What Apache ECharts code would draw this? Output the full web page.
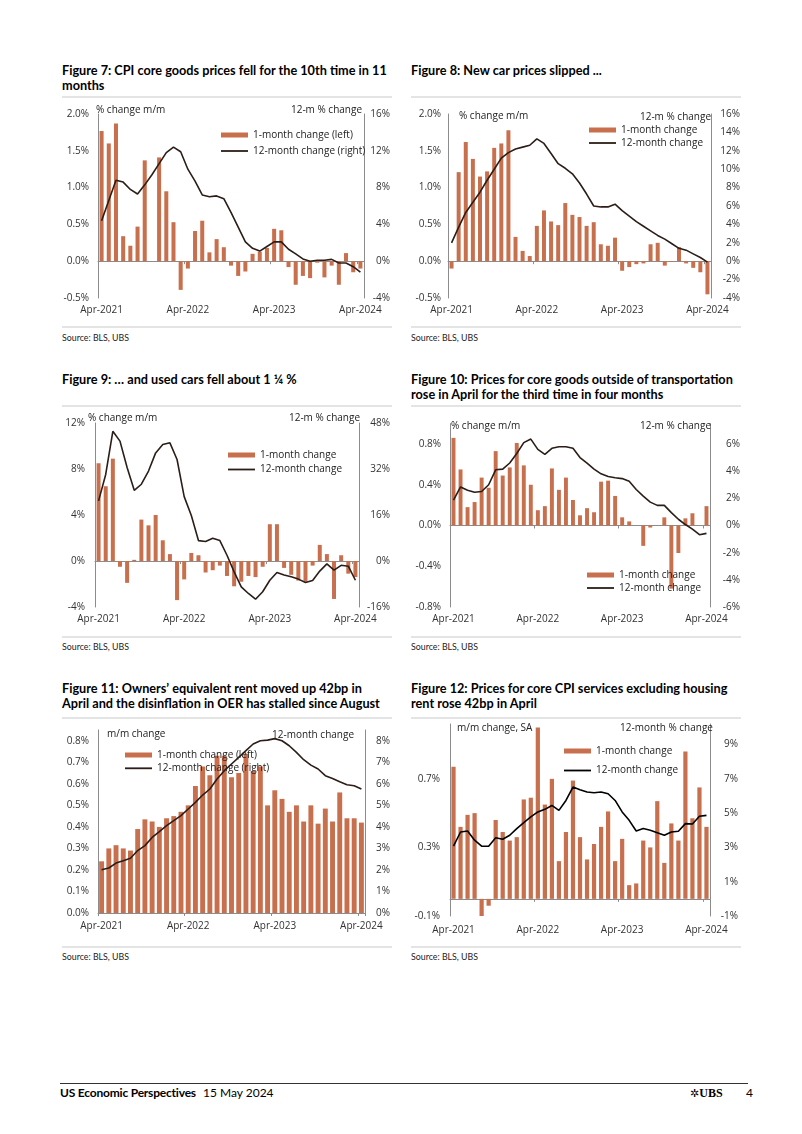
<!DOCTYPE html>
<html><head><meta charset="utf-8">
<script src="https://cdn.jsdelivr.net/npm/echarts@6/dist/echarts.min.js"></script>
<style>
body{margin:0;background:#fff;}
#page{position:relative;width:802px;height:1134px;overflow:hidden;font-family:Lato,'Open Sans',sans-serif;color:#000;background:#fff;}
.title{position:absolute;font-weight:700;font-size:12.7px;line-height:15px;white-space:nowrap;z-index:2;}
.sep{position:absolute;height:2px;background:#e4e4e4;}
.src{position:absolute;font-size:8.8px;color:#222;line-height:10px;white-space:nowrap;}
.chart{position:absolute;}
.an{position:absolute;font-size:10px;color:#222;white-space:nowrap;line-height:12px;z-index:2;font-family:'Open Sans',sans-serif;}
.foot{position:absolute;font-size:12px;line-height:14px;white-space:nowrap;}
</style></head>
<body><div id="page">
<div class="title" style="left:62px;top:63px;">Figure 7: CPI core goods prices fell for the 10th time in 11<br>months</div>
<div class="title" style="left:411px;top:63px;">Figure 8: New car prices slipped ...</div>
<div class="sep" style="left:62px;top:96px;width:330px;"></div>
<div class="sep" style="left:411px;top:96px;width:330px;"></div>
<div class="sep" style="left:62px;top:326px;width:330px;"></div>
<div class="sep" style="left:411px;top:326px;width:330px;"></div>
<div class="src" style="left:62px;top:333px;">Source: BLS, UBS</div>
<div class="src" style="left:411px;top:333px;">Source: BLS, UBS</div>

<div class="title" style="left:62px;top:372px;">Figure 9: … and used cars fell about 1 ¼ %</div>
<div class="title" style="left:411px;top:372px;">Figure 10: Prices for core goods outside of transportation<br>rose in April for the third time in four months</div>
<div class="sep" style="left:62px;top:405px;width:330px;"></div>
<div class="sep" style="left:411px;top:405px;width:330px;"></div>
<div class="sep" style="left:62px;top:636px;width:330px;"></div>
<div class="sep" style="left:411px;top:636px;width:330px;"></div>
<div class="src" style="left:62px;top:642px;">Source: BLS, UBS</div>
<div class="src" style="left:411px;top:642px;">Source: BLS, UBS</div>

<div class="title" style="left:62px;top:681px;">Figure 11: Owners’ equivalent rent moved up 42bp in<br>April and the disinflation in OER has stalled since August</div>
<div class="title" style="left:411px;top:681px;">Figure 12: Prices for core CPI services excluding housing<br>rent rose 42bp in April</div>
<div class="sep" style="left:62px;top:717px;width:330px;"></div>
<div class="sep" style="left:411px;top:717px;width:330px;"></div>
<div class="sep" style="left:62px;top:946px;width:330px;"></div>
<div class="sep" style="left:411px;top:946px;width:330px;"></div>
<div class="src" style="left:62px;top:952px;">Source: BLS, UBS</div>
<div class="src" style="left:411px;top:952px;">Source: BLS, UBS</div>

<div class="chart" id="c7" style="left:55px;top:100px;width:345px;height:225px;"></div>
<div class="chart" id="c8" style="left:405px;top:100px;width:345px;height:225px;"></div>
<div class="chart" id="c9" style="left:55px;top:410px;width:345px;height:225px;"></div>
<div class="chart" id="c10" style="left:405px;top:410px;width:345px;height:225px;"></div>
<div class="chart" id="c11" style="left:55px;top:720px;width:345px;height:225px;"></div>
<div class="chart" id="c12" style="left:405px;top:720px;width:345px;height:225px;"></div>

<div class="an" style="left:96px;top:103px;">% change m/m</div>
<div class="an" style="right:440px;top:103px;">12-m % change</div>
<div class="an" style="left:459px;top:109px;">% change m/m</div>
<div class="an" style="right:91px;top:110px;">12-m % change</div>
<div class="an" style="left:88px;top:411px;">% change m/m</div>
<div class="an" style="right:442px;top:411px;">12-m % change</div>
<div class="an" style="left:451px;top:419px;">% change m/m</div>
<div class="an" style="right:91px;top:419px;">12-m % change</div>
<div class="an" style="left:107px;top:727px;">m/m change</div>
<div class="an" style="right:448px;top:728px;">12-month change</div>
<div class="an" style="left:457px;top:721px;">m/m change, SA</div>
<div class="an" style="right:89px;top:721px;">12-month % change</div>

<div style="position:absolute;left:60px;top:1083px;width:688px;height:1px;background:#333;"></div>
<div class="foot" style="left:60px;top:1086px;font-weight:700;letter-spacing:-0.2px;">US Economic Perspectives</div>
<div class="foot" style="left:203px;top:1086px;">15 May 2024</div>
<div class="foot" style="left:690px;top:1086px;font-family:'Liberation Serif',serif;font-weight:700;"><span style="font-family:'DejaVu Sans';font-size:11px;">✲</span>UBS</div>
<div class="foot" style="left:746px;top:1086px;">4</div>
</div>
<script>
const months = ['Apr-2021','May-2021','Jun-2021','Jul-2021','Aug-2021','Sep-2021','Oct-2021','Nov-2021','Dec-2021','Jan-2022','Feb-2022','Mar-2022',
 'Apr-2022','May-2022','Jun-2022','Jul-2022','Aug-2022','Sep-2022','Oct-2022','Nov-2022','Dec-2022','Jan-2023','Feb-2023','Mar-2023',
 'Apr-2023','May-2023','Jun-2023','Jul-2023','Aug-2023','Sep-2023','Oct-2023','Nov-2023','Dec-2023','Jan-2024','Feb-2024','Mar-2024','Apr-2024'];

const fig7Bars = [1.77,1.60,1.87,0.34,0.21,0.47,1.37,0.00,1.41,0.95,0.53,-0.39,-0.10,0.41,0.55,0.12,0.30,0.19,-0.06,-0.20,-0.14,0.10,0.13,0.18,0.44,0.42,-0.08,-0.32,-0.20,-0.23,-0.02,-0.22,-0.06,-0.32,0.11,-0.15,-0.10];
const fig7Line = [4.4,6.6,8.8,8.6,7.8,7.3,8.3,9.4,10.6,11.8,12.4,11.9,10.0,8.7,7.2,7.0,7.1,6.8,5.3,3.7,2.1,1.4,1.1,1.6,2.1,2.1,1.3,0.8,0.25,0.0,0.1,0.1,0.2,-0.2,-0.2,-0.6,-1.2];
const fig7LeftTicks = [-0.5,0,0.5,1,1.5,2];
const fig7RightTicks = [-4,0,4,8,12,16];

const fig8Bars = [-0.10,1.21,1.62,1.39,1.15,1.22,1.54,1.60,1.78,0.33,0.14,0.07,0.48,0.69,0.54,0.49,0.79,0.63,0.60,0.48,0.53,0.23,0.21,0.32,-0.13,-0.08,-0.04,-0.03,0.23,0.25,-0.06,-0.01,0.19,-0.03,-0.09,-0.15,-0.45];
const fig8Line = [2.0,3.7,5.3,6.4,7.5,8.8,10.0,11.2,11.8,12.2,12.4,12.6,13.3,12.8,11.7,10.6,10.1,9.5,8.5,7.3,6.0,5.9,5.9,6.2,5.5,4.9,4.3,3.8,3.3,2.8,2.4,1.9,1.4,1.2,0.8,0.4,-0.1];
const fig8LeftTicks = [-0.5,0,0.5,1,1.5,2];
const fig8RightTicks = [-4,-2,0,2,4,6,8,10,12,14,16];

const fig9Bars = [8.5,6.5,8.9,-0.5,-1.9,0.1,3.6,3.1,4.0,1.8,0.6,-3.4,-1.6,0.7,0.5,-1.0,-0.8,-0.4,-1.3,-2.2,-1.8,-1.3,-1.4,-0.5,3.2,3.2,-0.6,-1.2,-1.7,-1.8,-0.4,1.4,0.6,-3.3,0.5,-1.1,-1.4];
const fig9Line = [20.9,30.1,45.1,41.7,32.5,24.6,26.7,31.3,37.6,40.5,41.1,35.3,22.4,15.8,7.1,6.8,7.9,7.1,2.0,-3.8,-9.0,-11.3,-13.3,-10.7,-6.7,-4.0,-4.9,-5.5,-6.3,-7.5,-6.8,-3.5,-1.0,-3.2,-1.5,-1.8,-6.7];
const fig9LeftTicks = [-4,0,4,8,12];
const fig9RightTicks = [-16,0,16,32,48];

const fig10Bars = [0.86,0.55,0.18,0.23,0.47,0.37,0.73,0.49,0.57,0.81,0.59,0.40,0.15,0.19,0.56,0.35,0.47,0.25,0.10,0.17,0.13,0.43,0.44,0.29,0.08,0.04,0.00,-0.20,-0.02,0.00,0.08,-0.62,-0.27,0.07,0.12,0.00,0.19];
const fig10Line = [1.87,2.84,2.6,2.45,2.5,3.0,4.1,4.15,4.6,5.3,6.1,6.36,5.6,5.24,5.68,5.8,5.8,5.68,5.0,4.59,4.15,3.8,3.6,3.52,3.45,3.25,2.65,2.16,1.72,1.48,1.48,0.95,0.46,0.07,-0.27,-0.68,-0.58];
const fig10LeftTicks = [-0.8,-0.4,0,0.4,0.8];
const fig10RightTicks = [-6,-4,-2,0,2,4,6];

const fig11Bars = [0.24,0.30,0.315,0.30,0.29,0.39,0.435,0.425,0.40,0.44,0.45,0.47,0.50,0.59,0.68,0.64,0.73,0.73,0.63,0.65,0.74,0.66,0.68,0.50,0.57,0.53,0.47,0.50,0.425,0.50,0.415,0.485,0.425,0.56,0.44,0.44,0.42];
const fig11Line = [2.01,2.09,2.32,2.43,2.54,2.9,3.13,3.51,3.78,4.06,4.29,4.52,4.83,5.14,5.48,5.76,6.22,6.61,6.92,7.23,7.54,7.85,8.0,8.03,8.1,8.0,7.77,7.46,7.12,6.87,6.69,6.38,6.25,6.1,5.96,5.91,5.76];
const fig11LeftTicks = [0,0.1,0.2,0.3,0.4,0.5,0.6,0.7,0.8];
const fig11RightTicks = [0,1,2,3,4,5,6,7,8];

const fig12Bars = [0.77,0.42,0.49,0.50,-0.10,-0.04,0.46,0.39,0.34,0.36,0.58,0.59,1.00,0.55,0.70,0.22,0.39,0.69,0.36,0.23,0.32,0.42,0.51,0.22,0.35,0.08,0.09,0.34,0.30,0.57,0.21,0.44,0.34,0.86,0.47,0.65,0.42];
const fig12Line = [3.07,3.9,3.96,3.42,3.07,3.07,3.57,3.48,3.71,4.1,4.45,4.78,5.07,5.22,5.45,5.16,5.74,6.52,6.37,6.23,6.19,6.23,6.13,5.74,5.07,4.58,3.96,4.1,4.0,3.86,3.71,3.9,3.94,4.39,4.37,4.82,4.87];
const fig12LeftTicks = [-0.1,0.3,0.7];
const fig12RightTicks = [-1,1,3,5,7,9];

const BAR_COLOR = '#C86F4D';
const AXIS_COLOR = '#8c8c8c';
const FONT = "'Open Sans', sans-serif";
const LINE_ICON = 'path://M0 0 H60 V4 H0 Z';

function fmt(ticks, dec) {
  return function (v) {
    for (const t of ticks) { if (Math.abs(v - t) < 1e-6) return t.toFixed(dec) + '%'; }
    return '';
  };
}

function makeChart(id, c) {
  const chart = echarts.init(document.getElementById(id), null, {renderer: 'canvas'});
  const yBase = {
    type: 'value', splitLine: {show: false}, axisTick: {show: false},
    axisLine: {show: true, onZero: false, lineStyle: {color: AXIS_COLOR, width: 1}}
  };
  chart.setOption({
    animation: false,
    grid: {left: c.grid[0], top: c.grid[1], width: c.grid[2], height: c.grid[3], containLabel: false},
    legend: {
      orient: 'vertical', left: c.leg[0], top: c.leg[1], itemGap: c.leg[2], padding: 0,
      itemWidth: 27, itemHeight: 5, selectedMode: false,
      textStyle: {fontSize: 10, color: '#222', fontFamily: FONT, lineHeight: 12},
      data: [{name: c.barName, icon: 'rect'}, {name: c.lineName, icon: LINE_ICON, itemStyle: {color: c.lineColor}}]
    },
    xAxis: [
      {type: 'category', data: months, position: 'bottom',
       axisLine: {show: false, onZero: false}, axisTick: {show: false},
       axisLabel: {interval: function (i) { return i % 12 === 0; }, margin: c.xMargin, color: '#333', fontSize: 10, fontFamily: FONT}},
      {type: 'category', data: months, position: 'bottom',
       axisLine: {show: true, onZero: true, lineStyle: {color: AXIS_COLOR, width: 1}},
       axisTick: {show: true, interval: function (i) { return i % 12 === 0; }, length: 3, lineStyle: {color: AXIS_COLOR}},
       axisLabel: {show: false}}
    ],
    yAxis: [
      Object.assign({}, yBase, {position: 'left', min: c.left[0], max: c.left[1], interval: c.left[2],
        axisLabel: {formatter: fmt(c.leftTicks, c.leftDec), margin: c.lm, color: '#333', fontSize: 10, fontFamily: FONT}}),
      Object.assign({}, yBase, {position: 'right', min: c.right[0], max: c.right[1], interval: c.right[2],
        axisLabel: {formatter: fmt(c.rightTicks, 0), margin: c.rm, align: 'right', color: '#333', fontSize: 10, fontFamily: FONT}})
    ],
    series: [
      {name: c.barName, type: 'bar', data: c.bars, xAxisIndex: 0, yAxisIndex: 0, barWidth: c.barWidth || '58%',
       itemStyle: {color: BAR_COLOR}, z: 2},
      {name: c.lineName, type: 'line', data: c.line, xAxisIndex: 0, yAxisIndex: 1, symbol: 'none', showSymbol: false,
       lineStyle: {color: c.lineColor, width: 1.6}, itemStyle: {color: c.lineColor}, z: 3}
    ]
  });
}

makeChart('c7', {grid: [43, 14, 266, 184], leg: [166, 29, 4], barName: '1-month change (left)', lineName: '12-month change (right)',
  bars: fig7Bars, line: fig7Line, left: [-0.5, 2.0, 0.5], right: [-4, 16, 4], leftTicks: fig7LeftTicks, rightTicks: fig7RightTicks,
  leftDec: 1, lm: 9, rm: 26, xMargin: 7, lineColor: '#2b1d18', barWidth: '56%'});
makeChart('c8', {grid: [43, 14, 263, 184], leg: [184, 24, 1], barName: '1-month change', lineName: '12-month change',
  bars: fig8Bars, line: fig8Line, left: [-0.5, 2.0, 0.5], right: [-4, 16, 2], leftTicks: fig8LeftTicks, rightTicks: fig8RightTicks,
  leftDec: 1, lm: 7, rm: 29, xMargin: 7, lineColor: '#2b1d18', barWidth: '56%'});
makeChart('c9', {grid: [40, 13, 264, 184], leg: [173, 39, 2.5], barName: '1-month change', lineName: '12-month change',
  bars: fig9Bars, line: fig9Line, left: [-4, 12, 4], right: [-16, 48, 16], leftTicks: fig9LeftTicks, rightTicks: fig9RightTicks,
  leftDec: 0, lm: 10, rm: 31, xMargin: 7, lineColor: '#2b1d18', barWidth: '56%'});
makeChart('c10', {grid: [45, 13.6, 260, 183.4], leg: [182, 159, 1], barName: '1-month change', lineName: '12-month change',
  bars: fig10Bars, line: fig10Line, left: [-0.8, 1.0, 0.4], right: [-6, 7.5, 2], leftTicks: fig10LeftTicks, rightTicks: fig10RightTicks,
  leftDec: 1, lm: 9, rm: 30, xMargin: 7, lineColor: '#2b1d18', barWidth: '56%'});
makeChart('c11', {grid: [43, 10, 267, 183], leg: [70, 29, 1.3], barName: '1-month change (left)', lineName: '12-month change (right)',
  bars: fig11Bars, line: fig11Line, left: [0, 0.85, 0.1], right: [0, 8.5, 1], leftTicks: fig11LeftTicks, rightTicks: fig11RightTicks,
  leftDec: 1, lm: 9, rm: 25, xMargin: 8, lineColor: '#2b1d18', barWidth: '68%'});
makeChart('c12', {grid: [45, 4, 260, 192], leg: [159, 25, 7.5], barName: '1-month change', lineName: '12-month change',
  bars: fig12Bars, line: fig12Line, left: [-0.1, 1.02, 0.1], right: [-1, 10.2, 1], leftTicks: fig12LeftTicks, rightTicks: fig12RightTicks,
  leftDec: 1, lm: 10, rm: 28, xMargin: 9, lineColor: '#000000', barWidth: '60%'});
</script>
</body></html>
